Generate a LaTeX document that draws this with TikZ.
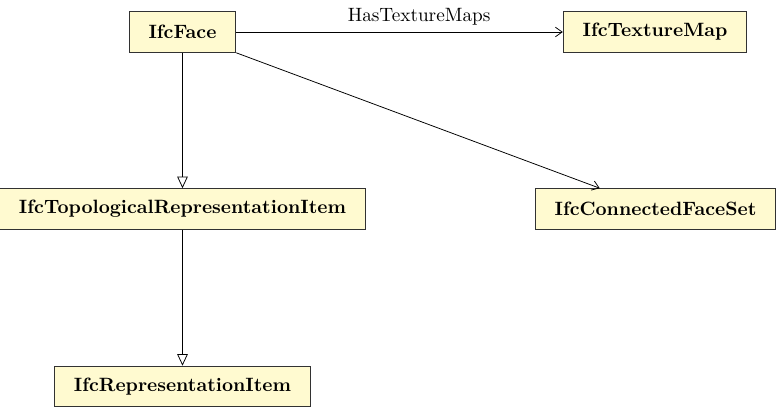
\documentclass[tikz,border=0pt]{standalone}
\usepackage{tikz}
\usepackage{xcolor}
\usetikzlibrary{positioning,arrows.meta}
\definecolor{ifcfill}{RGB}{255,250,208}
\definecolor{ifcdraw}{RGB}{50,50,50}
\tikzset{
    ent/.style={
        rectangle,
        draw=ifcdraw,
        fill=ifcfill,
        semithick,
        minimum height=21pt,
        inner xsep=10pt,
        font=\bfseries
    },
    rel/.style={-{Straight Barb[length=3.5pt,width=5pt]},thin,black},
    isa/.style={-{Triangle[open,length=6pt,width=5.5pt]},thin,black}
}
\begin{document}
\begin{tikzpicture}[x=0.519pt,y=-0.519pt]
\useasboundingbox (0,0) rectangle (776,408);
\node[ent] (face) at (182.5,32) {IfcFace};
\node[ent] (tmap) at (655,32) {IfcTextureMap};
\node[ent] (topo) at (182.5,209) {IfcTopologicalRepresentationItem};
\node[ent] (cfs) at (655.5,209) {IfcConnectedFaceSet};
\node[ent] (ritem) at (182.5,386.5) {IfcRepresentationItem};
\draw[rel] (face) -- node[above,pos=0.56] (lbl) {HasTextureMaps} (tmap);
\draw[rel] (face.south east) -- (cfs);
\draw[isa] (face) -- (topo);
\draw[isa] (topo) -- (ritem);
\end{tikzpicture}
\end{document}
